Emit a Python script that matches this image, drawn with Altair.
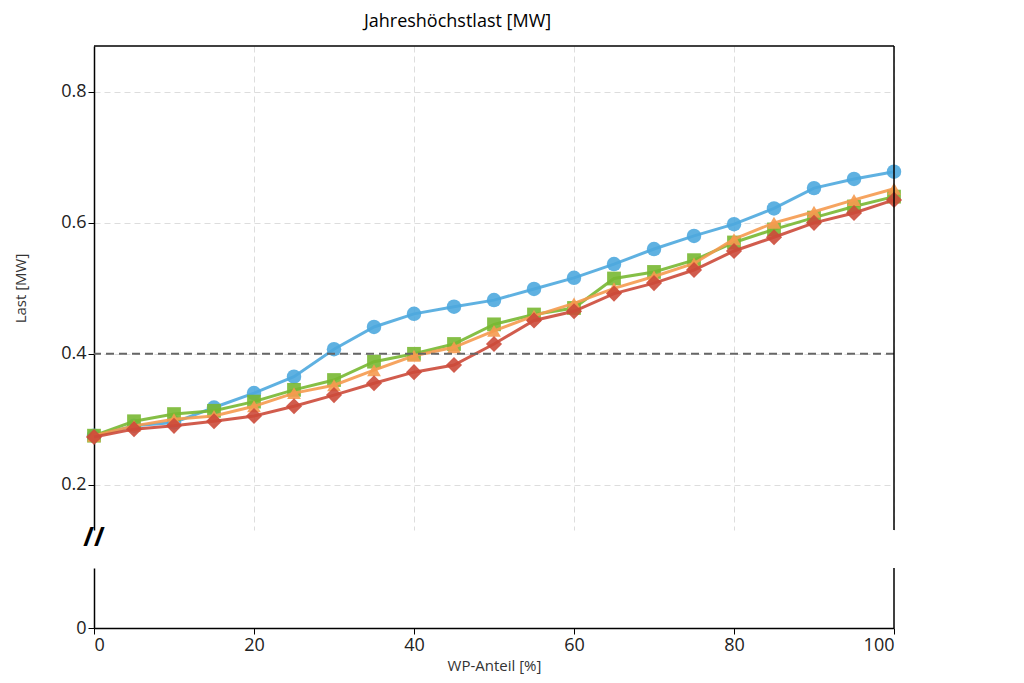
import pandas as pd
import altair as alt

x_vals = list(range(0, 101, 5))
blue = [0.275, 0.290, 0.295, 0.318, 0.340, 0.365, 0.407, 0.441, 0.461, 0.472, 0.482,
        0.499, 0.516, 0.537, 0.560, 0.580, 0.598, 0.622, 0.653, 0.667, 0.678]
green = [0.275, 0.297, 0.308, 0.313, 0.327, 0.345, 0.360, 0.388, 0.400, 0.415, 0.445,
         0.460, 0.470, 0.515, 0.525, 0.543, 0.570, 0.590, 0.608, 0.625, 0.640]
orange = [0.275, 0.290, 0.300, 0.305, 0.320, 0.340, 0.352, 0.375, 0.397, 0.410, 0.435,
          0.458, 0.477, 0.500, 0.518, 0.538, 0.575, 0.600, 0.617, 0.635, 0.652]
red = [0.273, 0.285, 0.290, 0.297, 0.305, 0.320, 0.337, 0.355, 0.372, 0.383, 0.415,
       0.451, 0.465, 0.492, 0.508, 0.528, 0.557, 0.578, 0.600, 0.615, 0.635]

series = [("a", blue, "#4ea8de", "circle", 210), ("b", green, "#78b832", "square", 190),
          ("c", orange, "#f59a4f", "triangle-up", 190), ("d", red, "#cc4a3a", "diamond", 260)]

FONT = "Open Sans"
xs = alt.Scale(domain=[0, 100], nice=False)
W, H1, H2 = 800, 484, 60

layers = []
for name, vals, col, shape, sz in series:
    d = pd.DataFrame({"x": x_vals, "y": vals})
    base = alt.Chart(d).encode(
        x=alt.X("x:Q", scale=xs, axis=alt.Axis(labels=False, title=None, values=[0, 20, 40, 60, 80, 100],
                                                grid=True, gridDash=[6, 4], gridColor="#dddddd",
                                                ticks=False, domain=False)),
        y=alt.Y("y:Q", scale=alt.Scale(domain=[0.131, 0.87], nice=False, zero=False),
                axis=alt.Axis(title="Last [MW]", values=[0.2, 0.4, 0.6, 0.8], format=".1f",
                              grid=True, gridDash=[6, 4], gridColor="#dddddd",
                              labelFontSize=18, titleFontSize=15, titleFontWeight="normal",
                              tickSize=6, domain=True, domainWidth=1.5, minExtent=62)),
    )
    layers.append(base.mark_line(color=col, strokeWidth=3, opacity=0.9))
    layers.append(base.mark_point(shape=shape, filled=True, size=sz, color=col, opacity=0.9))

ref = alt.Chart(pd.DataFrame({"y": [0.4]})).mark_rule(
    color="#666666", strokeDash=[8, 5], strokeWidth=2).encode(y="y:Q")
top_border = alt.Chart(pd.DataFrame({"v": [0]})).mark_rule(color="black", strokeWidth=1.5).encode(
    x=alt.value(0), x2=alt.value(W), y=alt.value(0))
right_border = alt.Chart(pd.DataFrame({"v": [0]})).mark_rule(color="black", strokeWidth=1.5).encode(
    x=alt.value(W), y=alt.value(0), y2=alt.value(H1))
brk = alt.Chart(pd.DataFrame({"t": ["//"]})).mark_text(
    fontSize=26, fontWeight="bold", color="black", dy=8).encode(
    x=alt.value(0), y=alt.value(H1), text="t:N")

upper = alt.layer(*layers, ref, top_border, right_border, brk).properties(width=W, height=H1)

right_border2 = alt.Chart(pd.DataFrame({"v": [0]})).mark_rule(color="black", strokeWidth=1.5).encode(
    x=alt.value(W), y=alt.value(0), y2=alt.value(H2))
pts = alt.Chart(pd.DataFrame({"x": [0], "y": [0]})).mark_point(opacity=0).encode(
    x=alt.X("x:Q", scale=xs, axis=alt.Axis(title="WP-Anteil [%]", values=[0, 20, 40, 60, 80, 100],
                                            labelFontSize=18, titleFontSize=15, titleFontWeight="normal",
                                            grid=False, tickSize=6, domain=True, domainWidth=1.5)),
    y=alt.Y("y:Q", scale=alt.Scale(domain=[0, 0.09], nice=False),
            axis=alt.Axis(title=None, values=[0], format="d", labelFontSize=18,
                          grid=False, tickSize=6, domain=True, domainWidth=1.5, minExtent=62)),
)
lower = alt.layer(pts, right_border2).properties(width=W, height=H2)

chart = alt.vconcat(upper, lower, spacing=16).properties(
    title=alt.TitleParams("Jahreshöchstlast [MW]", fontSize=18, fontWeight="normal",
                          anchor="middle", offset=14)
).configure(font=FONT).configure_view(stroke=None).configure_axis(
    labelColor="#222222", titleColor="#333333", tickColor="black", domainColor="black"
).configure_title(font=FONT)

chart.save("out.html", embed_options={"renderer": "svg", "actions": False})
